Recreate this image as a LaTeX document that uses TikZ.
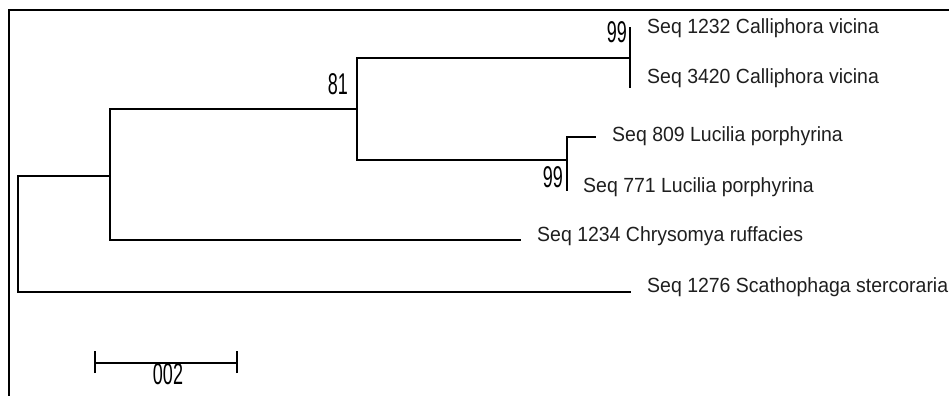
\documentclass[tikz,border=0pt]{standalone}
\usepackage{fontspec}
\setmainfont{Liberation Sans}
\newfontfamily\labelfont[FakeStretch=0.95]{Liberation Sans}
\newfontfamily\numfont[FakeStretch=0.6]{Liberation Sans}
\begin{document}
\begin{tikzpicture}[x=1pt,y=-1pt,
  branch/.style={line width=2.2pt,line cap=rect},
  taxon/.style={anchor=base west,inner sep=0pt,text=black!88,font=\labelfont\fontsize{20.5}{20.5}\selectfont},
  boot/.style={anchor=base east,inner sep=0pt,font=\numfont\fontsize{30}{30}\selectfont},
  frameline/.style={line width=2.8pt}]
\useasboundingbox (0,0) rectangle (949,396);
\fill[white] (0,0) rectangle (949,396);

% frame (top and left edges)
\coordinate (fTL) at (9,10);
\coordinate (fTR) at (949,10);
\coordinate (fBL) at (9,396);
\draw[frameline] (fTR) -- (fTL) -- (fBL);

% internal nodes of the tree
\coordinate (root) at (18,234);
\coordinate (nA) at (110,176);
\coordinate (nB) at (357,109);
\coordinate (nC) at (630,58);
\coordinate (nD) at (567,160);

% tips
\coordinate (t1232) at (630,28);
\coordinate (t3420) at (630,87);
\coordinate (t809) at (595,137);
\coordinate (t771) at (567,190);
\coordinate (t1234) at (520,240);
\coordinate (t1276) at (630,292);

% branches
\draw[branch] (root) |- (nA);
\draw[branch] (root) |- (t1276);
\draw[branch] (nA) |- (nB);
\draw[branch] (nA) |- (t1234);
\draw[branch] (nB) |- (nC);
\draw[branch] (nB) |- (nD);
\draw[branch] (nC) |- (t1232);
\draw[branch] (nC) |- (t3420);
\draw[branch] (nD) |- (t809);
\draw[branch] (nD) |- (t771);

% taxon labels
\node[taxon] (l1232) at (647,34) {Seq 1232 Calliphora vicina};
\node[taxon] (l3420) at (647,83) {Seq 3420 Calliphora vicina};
\node[taxon] (l809) at (612,141) {Seq 809 Lucilia porphyrina};
\node[taxon] (l771) at (583,192) {Seq 771 Lucilia porphyrina};
\node[taxon] (l1234) at (537,241) {Seq 1234 Chrysomya ruffacies};
\node[taxon] (l1276) at (647,292) {Seq 1276 Scathophaga stercoraria};

% bootstrap values
\node[boot] (b99a) at (627,43) {99};
\node[boot] (b81) at (348,94) {81};
\node[boot] (b99b) at (563,187) {99};

% scale bar
\coordinate (sL) at (95,363);
\coordinate (sR) at (237,363);
\draw[branch,line cap=butt] (sL) -- (sR);
\draw[branch,line cap=butt] ([yshift=-10pt]sL) -- ([yshift=12pt]sL);
\draw[branch,line cap=butt] ([yshift=-10pt]sR) -- ([yshift=12pt]sR);
\node[boot,anchor=north] (sLab) at (168,363) {002};
\end{tikzpicture}
\end{document}
